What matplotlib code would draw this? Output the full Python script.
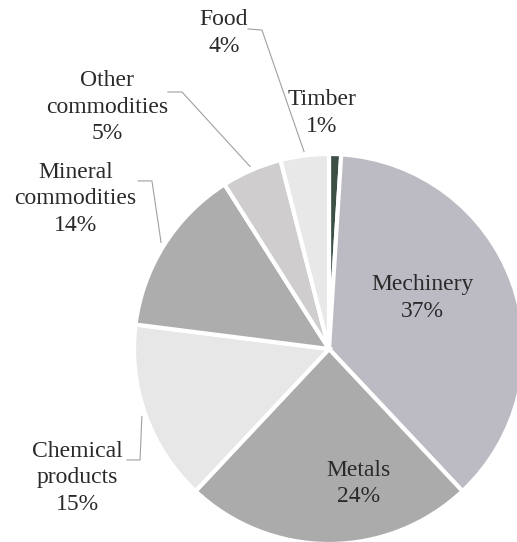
import numpy as np
import matplotlib.pyplot as plt
import matplotlib as mpl

mpl.rcParams['font.family'] = ['Liberation Serif', 'DejaVu Serif']

categories = ['Timber', 'Mechinery', 'Metals', 'Chemical\nproducts',
              'Mineral\ncommodities', 'Other\ncommodities', 'Food']
shares = [1, 37, 24, 15, 14, 5, 4]
colors = ['#3d5046', '#bcbbc3', '#acabab', '#e7e7e7', '#adadad', '#cfcdcd', '#e8e8e8']

# label centres in data units (pie radius = 1)
label_pos = [(-0.036, 1.21), (0.48, 0.26), (0.15, -0.69), (-1.29, -0.66),
             (-1.30, 0.77), (-1.14, 1.24), (-0.54, 1.62)]
# leader lines: (start, elbow) for outside labels, None where no line
leaders = [None, None, None,
           ((-1.036, -0.569), (-0.969, -0.569)),
           ((-0.979, 0.862), (-0.908, 0.862)),
           ((-0.826, 1.318), (-0.754, 1.318)),
           ((-0.415, 1.641), (-0.344, 1.636))]

W, H = 517, 542
fig = plt.figure(figsize=(W / 100, H / 100), dpi=100)
cx, cy, r = 329, 349, 195
ax = fig.add_axes([(cx - r) / W, (H - cy - r) / H, 2 * r / W, 2 * r / H])

wedges, _ = ax.pie(shares, colors=colors, startangle=90, counterclock=False,
                   radius=1, wedgeprops=dict(edgecolor='white', linewidth=3))
ax.set_xlim(-1, 1)
ax.set_ylim(-1, 1)
ax.set_aspect('equal')
ax.axis('off')

for w, name, val, pos, ld in zip(wedges, categories, shares, label_pos, leaders):
    ax.text(pos[0], pos[1], f'{name}\n{val}%', ha='center', va='center',
            fontsize=17, color='#2a2a2a', linespacing=1.35, clip_on=False)
    if ld is not None:
        mid = np.deg2rad((w.theta1 + w.theta2) / 2)
        end = (1.02 * np.cos(mid), 1.02 * np.sin(mid))
        xs = [ld[0][0], ld[1][0], end[0]]
        ys = [ld[0][1], ld[1][1], end[1]]
        ax.plot(xs, ys, color='#a0a0a0', lw=0.8, clip_on=False)

fig.savefig('out.png', dpi=100)
